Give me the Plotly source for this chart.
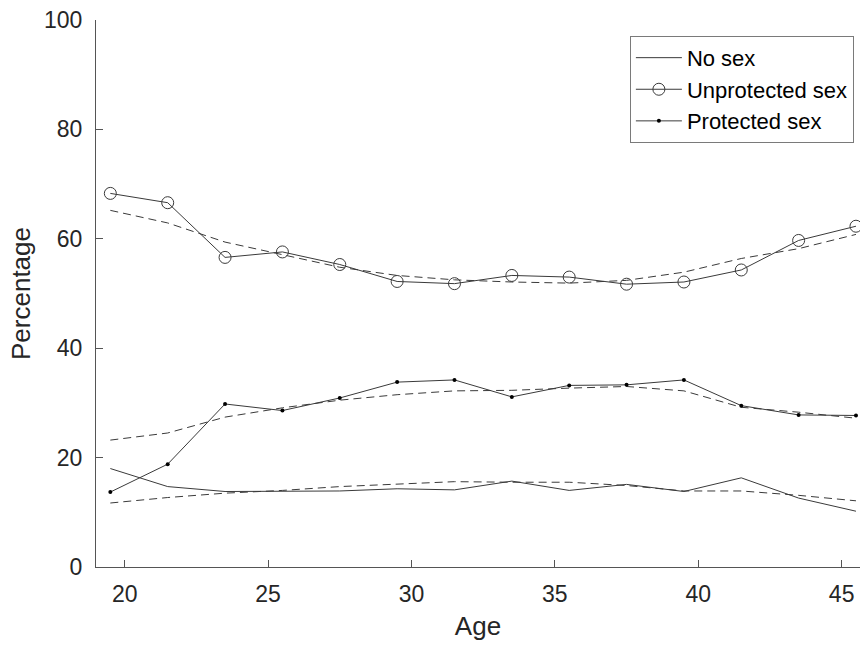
import plotly.graph_objects as go

age = [19.5, 21.5, 23.5, 25.5, 27.5, 29.5, 31.5, 33.5, 35.5, 37.5, 39.5, 41.5, 43.5, 45.5]

no_sex = [18.0, 14.7, 13.8, 13.9, 13.9, 14.3, 14.1, 15.7, 14.0, 15.1, 13.8, 16.3, 12.6, 10.2]
no_sex_fit = [11.7, 12.7, 13.5, 14.0, 14.7, 15.2, 15.6, 15.5, 15.5, 14.9, 13.9, 13.9, 13.1, 12.1]

unprotected = [68.3, 66.6, 56.6, 57.6, 55.3, 52.2, 51.8, 53.3, 53.0, 51.7, 52.1, 54.3, 59.7, 62.3]
unprotected_fit = [65.2, 62.9, 59.4, 57.1, 54.8, 53.3, 52.5, 52.1, 51.9, 52.4, 53.9, 56.4, 58.2, 60.8]

protected = [13.7, 18.8, 29.8, 28.6, 30.9, 33.8, 34.2, 31.1, 33.2, 33.3, 34.2, 29.5, 27.8, 27.7]
protected_fit = [23.2, 24.5, 27.4, 29.1, 30.5, 31.5, 32.2, 32.3, 32.7, 33.0, 32.2, 29.2, 28.3, 27.2]

x_ticks = [20, 25, 30, 35, 40, 45]
y_ticks = [0, 20, 40, 60, 80, 100]

LINE = "#3a3a3a"
TXT = "#262626"
FONT = "Liberation Sans, Arial, Helvetica, sans-serif"
DASH = "8px,5px"

fig = go.Figure()

# dashed fits (no legend)
for fit in (no_sex_fit, unprotected_fit, protected_fit):
    fig.add_trace(go.Scatter(x=age, y=fit, mode="lines", showlegend=False,
                             line=dict(color=LINE, width=1, dash=DASH), hoverinfo="skip"))

fig.add_trace(go.Scatter(x=age, y=no_sex, mode="lines", name="No sex",
                         line=dict(color=LINE, width=1)))
fig.add_trace(go.Scatter(x=age, y=unprotected, mode="lines+markers", name="Unprotected sex",
                         line=dict(color=LINE, width=1),
                         marker=dict(symbol="circle-open", size=12, color=LINE,
                                     line=dict(width=1, color=LINE))))
fig.add_trace(go.Scatter(x=age, y=protected, mode="lines+markers", name="Protected sex",
                         line=dict(color=LINE, width=1),
                         marker=dict(symbol="circle", size=4, color="#000000")))

fig.update_layout(
    width=860, height=646,
    margin=dict(l=95.5, r=0, t=19.5, b=79.3),
    paper_bgcolor="white", plot_bgcolor="white",
    font=dict(family=FONT, color=TXT, size=23),
    legend=dict(x=0.992, y=0.971, xanchor="right", yanchor="top",
                bordercolor="#7a7a7a", borderwidth=1, bgcolor="white",
                font=dict(size=22, color="#000000"), tracegroupgap=0,
                itemwidth=46),
    xaxis=dict(range=[19.0, 45.64], tickvals=x_ticks, showgrid=False, zeroline=False,
               showline=True, linecolor="#555555", linewidth=1,
               ticks="inside", ticklen=7, tickcolor="#555555", tickwidth=1,
               ticklabelstandoff=6,
               tickfont=dict(size=23, color=TXT),
               title=dict(text="Age", font=dict(size=26, color=TXT), standoff=11)),
    yaxis=dict(range=[0, 100], tickvals=y_ticks, showgrid=False, zeroline=False,
               showline=True, linecolor="#555555", linewidth=1,
               ticks="inside", ticklen=7, tickcolor="#555555", tickwidth=1,
               ticklabelstandoff=8,
               tickfont=dict(size=23, color=TXT),
               title=dict(text="Percentage", font=dict(size=26, color=TXT), standoff=5)),
)

fig.write_html("out.html")
